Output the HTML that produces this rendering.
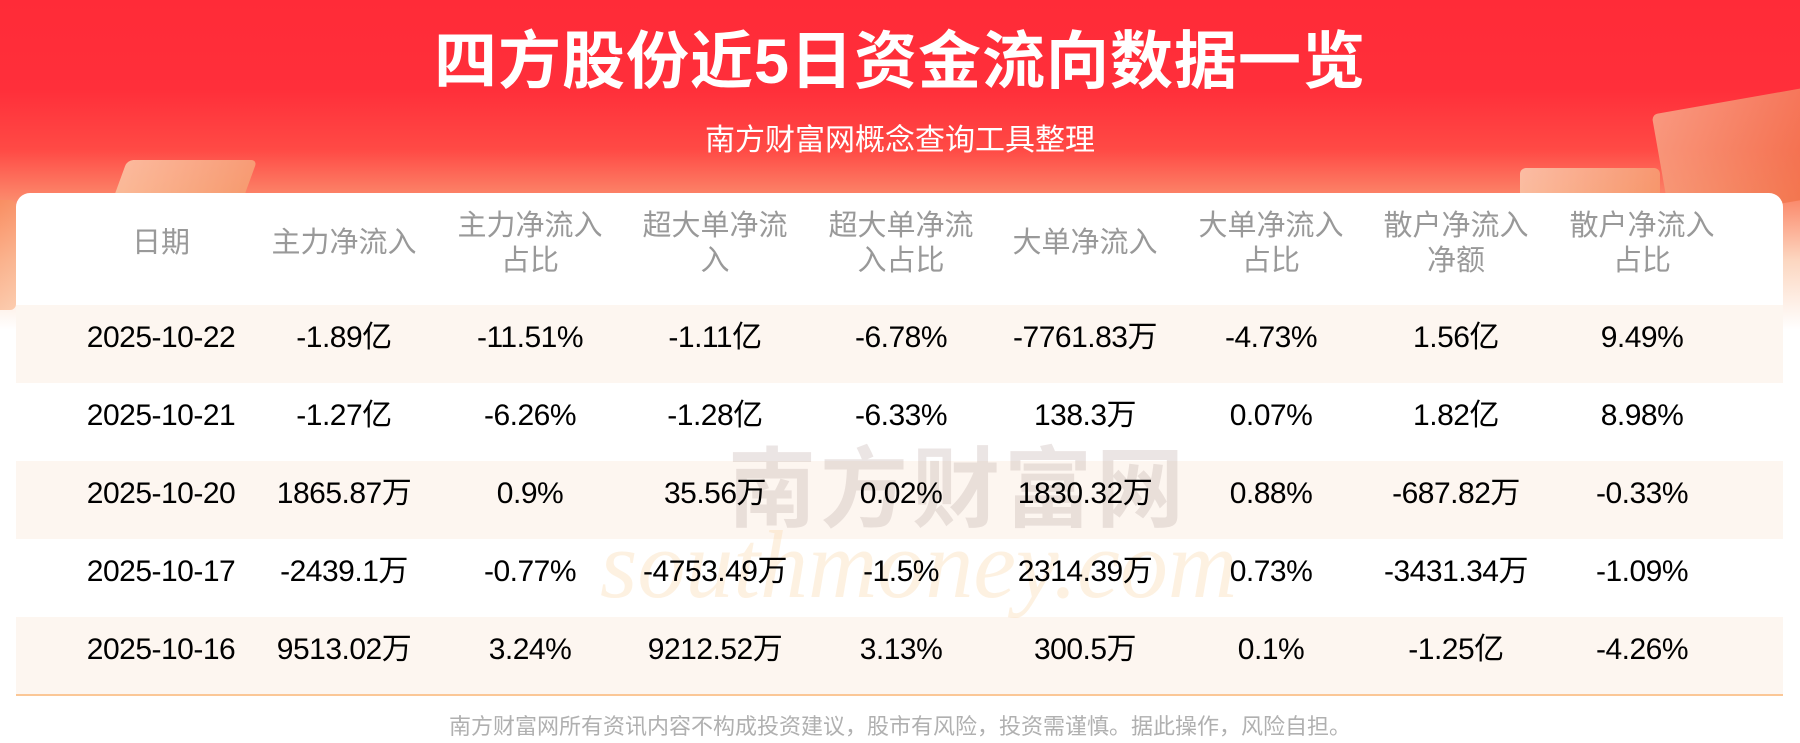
<!DOCTYPE html>
<html><head><meta charset="utf-8">
<style>
html,body{margin:0;padding:0;}
body{width:1800px;height:743px;position:relative;overflow:hidden;background:#fff;font-family:"Liberation Sans","Noto Sans CJK SC",sans-serif;}
.bg{position:absolute;left:0;top:0;width:1800px;height:330px;background:linear-gradient(180deg,#ff2b38 0px,#ff2f3a 90px,#ff4a45 150px,#fb8a6c 200px,#fcd6c0 260px,#fff 330px);}
.deco{position:absolute;border-radius:6px;opacity:.8;}
.title{position:absolute;left:0;width:1800px;top:22px;text-align:center;color:#fff;font-size:63px;font-weight:bold;letter-spacing:1px;line-height:80px;}
.sub{position:absolute;left:0;width:1800px;top:123px;text-align:center;color:#fff;font-size:30px;line-height:36px;}
.card{position:absolute;left:16px;top:193px;width:1767px;height:520px;background:#fff;border-radius:14px 14px 0 0;}
.row{position:absolute;left:16px;width:1767px;height:78px;}
.shade{background:#fdf6f0;}
.cell{position:absolute;width:200px;margin-left:-100px;text-align:center;}
.hd{color:#999;font-size:29px;line-height:35px;}
.d{color:#000;font-size:30px;line-height:78px;top:0;letter-spacing:-0.5px;}
.line{position:absolute;left:16px;width:1767px;top:694px;height:2px;background:#fbc796;}
.foot{position:absolute;left:0;width:1800px;top:713px;text-align:center;color:#b0b0b0;font-size:22px;line-height:28px;}
.wm{position:absolute;left:728px;top:440px;font-size:88px;line-height:100px;color:rgba(190,170,165,.3);font-weight:bold;letter-spacing:4px;white-space:nowrap;}
.wm2{position:absolute;left:600px;top:515px;font-size:96px;line-height:100px;color:rgba(250,215,170,.35);font-style:italic;font-family:"Liberation Serif",serif;white-space:nowrap;}
</style></head><body>
<div class="bg"></div>
<div class="deco" style="left:-10px;top:200px;width:26px;height:110px;background:linear-gradient(135deg,#f88a5a,#fbc3a0);"></div>
<div class="deco" style="left:120px;top:160px;width:130px;height:40px;background:linear-gradient(135deg,#fbd1b0,#f5a070);transform:skewX(-20deg);"></div>
<div class="deco" style="left:1660px;top:100px;width:160px;height:110px;background:linear-gradient(135deg,#f8b090,#f06a40);transform:rotate(-10deg);"></div>
<div class="deco" style="left:1520px;top:168px;width:140px;height:30px;background:linear-gradient(135deg,#fbd3b8,#f59a6a);"></div>
<div class="title">四方股份近5日资金流向数据一览</div>
<div class="sub">南方财富网概念查询工具整理</div>
<div class="card"></div>

<div class="cell hd" style="left:161px;top:226px;">日期</div>
<div class="cell hd" style="left:344px;top:226px;">主力净流入</div>
<div class="cell hd" style="left:530px;top:209px;">主力净流入<br>占比</div>
<div class="cell hd" style="left:715px;top:209px;">超大单净流<br>入</div>
<div class="cell hd" style="left:901px;top:209px;">超大单净流<br>入占比</div>
<div class="cell hd" style="left:1085px;top:226px;">大单净流入</div>
<div class="cell hd" style="left:1271px;top:209px;">大单净流入<br>占比</div>
<div class="cell hd" style="left:1456px;top:209px;">散户净流入<br>净额</div>
<div class="cell hd" style="left:1642px;top:209px;">散户净流入<br>占比</div>

<div class="row shade" style="top:305px;"></div>
<div class="row" style="top:383px;"></div>
<div class="row shade" style="top:461px;"></div>
<div class="row" style="top:539px;"></div>
<div class="row shade" style="top:617px;"></div>
<div class="wm">南方财富网</div>
<div class="wm2">southmoney.com</div>

<div style="position:absolute;left:0;top:299px;width:1800px;height:78px;">
<div class="cell d" style="left:161px">2025-10-22</div><div class="cell d" style="left:344px">-1.89亿</div><div class="cell d" style="left:530px">-11.51%</div><div class="cell d" style="left:715px">-1.11亿</div><div class="cell d" style="left:901px">-6.78%</div><div class="cell d" style="left:1085px">-7761.83万</div><div class="cell d" style="left:1271px">-4.73%</div><div class="cell d" style="left:1456px">1.56亿</div><div class="cell d" style="left:1642px">9.49%</div></div>
<div style="position:absolute;left:0;top:377px;width:1800px;height:78px;">
<div class="cell d" style="left:161px">2025-10-21</div><div class="cell d" style="left:344px">-1.27亿</div><div class="cell d" style="left:530px">-6.26%</div><div class="cell d" style="left:715px">-1.28亿</div><div class="cell d" style="left:901px">-6.33%</div><div class="cell d" style="left:1085px">138.3万</div><div class="cell d" style="left:1271px">0.07%</div><div class="cell d" style="left:1456px">1.82亿</div><div class="cell d" style="left:1642px">8.98%</div></div>
<div style="position:absolute;left:0;top:455px;width:1800px;height:78px;">
<div class="cell d" style="left:161px">2025-10-20</div><div class="cell d" style="left:344px">1865.87万</div><div class="cell d" style="left:530px">0.9%</div><div class="cell d" style="left:715px">35.56万</div><div class="cell d" style="left:901px">0.02%</div><div class="cell d" style="left:1085px">1830.32万</div><div class="cell d" style="left:1271px">0.88%</div><div class="cell d" style="left:1456px">-687.82万</div><div class="cell d" style="left:1642px">-0.33%</div></div>
<div style="position:absolute;left:0;top:533px;width:1800px;height:78px;">
<div class="cell d" style="left:161px">2025-10-17</div><div class="cell d" style="left:344px">-2439.1万</div><div class="cell d" style="left:530px">-0.77%</div><div class="cell d" style="left:715px">-4753.49万</div><div class="cell d" style="left:901px">-1.5%</div><div class="cell d" style="left:1085px">2314.39万</div><div class="cell d" style="left:1271px">0.73%</div><div class="cell d" style="left:1456px">-3431.34万</div><div class="cell d" style="left:1642px">-1.09%</div></div>
<div style="position:absolute;left:0;top:611px;width:1800px;height:78px;">
<div class="cell d" style="left:161px">2025-10-16</div><div class="cell d" style="left:344px">9513.02万</div><div class="cell d" style="left:530px">3.24%</div><div class="cell d" style="left:715px">9212.52万</div><div class="cell d" style="left:901px">3.13%</div><div class="cell d" style="left:1085px">300.5万</div><div class="cell d" style="left:1271px">0.1%</div><div class="cell d" style="left:1456px">-1.25亿</div><div class="cell d" style="left:1642px">-4.26%</div></div>

<div class="line"></div>
<div class="foot">南方财富网所有资讯内容不构成投资建议，股市有风险，投资需谨慎。据此操作，风险自担。</div>
</body></html>
